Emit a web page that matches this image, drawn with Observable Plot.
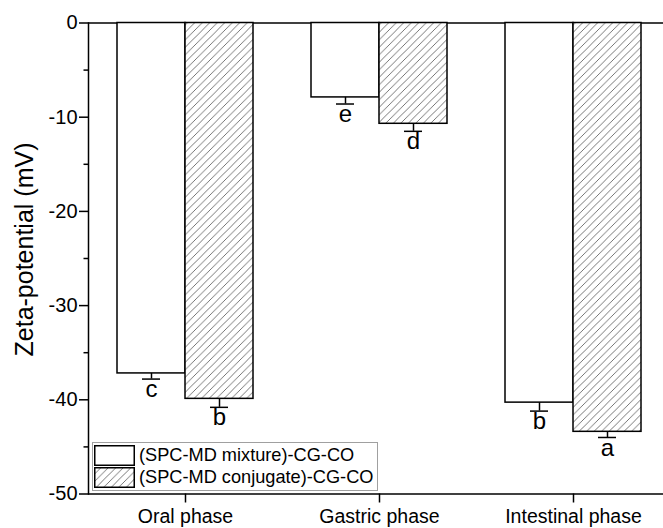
<!DOCTYPE html>
<html>
<head>
<meta charset="utf-8">
<script src="https://cdn.jsdelivr.net/npm/d3@7"></script>
<script src="https://cdn.jsdelivr.net/npm/@observablehq/plot@0.6"></script>
<style>
  html, body { margin: 0; padding: 0; background: white; overflow: hidden; }
  #wrap { position: relative; width: 663px; height: 528px; font-family: "Liberation Sans", Arial, sans-serif; }
  #legend { position: absolute; left: 92px; top: 442px; width: 284px; height: 47px; border: 1.5px solid #a0a0a0; background: white; box-sizing: content-box; }
  .item { position: absolute; left: 1px; height: 21px; display: flex; align-items: center; }
  .item svg { display: block; }
  .item span { margin-left: 4px; font-size: 18.2px; color: #000; white-space: nowrap; }
</style>
</head>
<body>
<svg width="0" height="0" style="position:absolute">
  <defs>
    <pattern id="hatch" patternUnits="userSpaceOnUse" width="7.5" height="7.5">
      <rect width="7.5" height="7.5" fill="white"></rect>
      <path d="M0,7.5 L7.5,0 M-1,1 L1,-1 M6.5,8.5 L8.5,6.5" stroke="#555" stroke-width="0.8"></path>
    </pattern>
  </defs>
</svg>
<div id="wrap"></div>
<script>
const phases = ["Oral phase", "Gastric phase", "Intestinal phase"];
const series = ["(SPC-MD mixture)-CG-CO", "(SPC-MD conjugate)-CG-CO"];
const mixtureValues = [-37.2, -7.9, -40.3];
const mixtureErrors = [0.6, 0.7, 0.9];
const mixtureLetters = ["c", "e", "b"];
const conjugateValues = [-39.9, -10.7, -43.4];
const conjugateErrors = [0.9, 0.8, 0.6];
const conjugateLetters = ["b", "d", "a"];
const yMajorTicks = [0, -10, -20, -30, -40, -50];
const yMinorTicks = [-5, -15, -25, -35, -45];
const yLabel = "Zeta-potential (mV)";

const rows = [];
phases.forEach((p, i) => {
  rows.push({phase: p, series: series[0], value: mixtureValues[i], err: mixtureErrors[i], letter: mixtureLetters[i]});
  rows.push({phase: p, series: series[1], value: conjugateValues[i], err: conjugateErrors[i], letter: conjugateLetters[i]});
});

const chart = Plot.plot({
  width: 663,
  height: 528,
  marginLeft: 88,
  marginRight: -7,
  marginTop: 22.5,
  marginBottom: 34.5,
  style: {fontFamily: '"Liberation Sans", Arial, sans-serif', fontSize: "20px", color: "black", background: "white"},
  fx: {domain: phases, padding: 0, axis: null},
  x: {domain: series, paddingInner: 0, paddingOuter: 0.416, axis: null},
  y: {domain: [-50, 0], axis: null},
  color: {domain: series, range: ["white", "url(#hatch)"]},
  marks: [
    Plot.ruleY([0, -50], {stroke: "black", strokeWidth: 1.5}),
    Plot.frame({anchor: "left", facetAnchor: "left", stroke: "black", strokeWidth: 1.5}),
    Plot.barY(rows, {fx: "phase", x: "series", y: "value", fill: "series", stroke: "black", strokeWidth: 1.5}),
    Plot.ruleX(rows, {fx: "phase", x: "series", y1: "value", y2: d => d.value - d.err, stroke: "black", strokeWidth: 1.5}),
    Plot.tickY(rows, {fx: "phase", x: "series", y: d => d.value - d.err, stroke: "black", strokeWidth: 1.5, insetLeft: 25, insetRight: 25}),
    Plot.text(rows, {fx: "phase", x: "series", y: d => d.value - d.err, text: "letter", lineAnchor: "top", dy: 1, fontSize: 24, fill: "black"}),
    Plot.axisY(yMajorTicks, {tickSize: 9, tickPadding: 2, fontSize: 20, strokeWidth: 1.5, tickFormat: d => String(d), label: null}),
    Plot.axisY(yMinorTicks, {tickSize: 4.5, strokeWidth: 1.5, tickFormat: () => "", label: null}),
    Plot.text([{phase: phases[0], label: yLabel}], {fx: "phase", frameAnchor: "left", textAnchor: "middle", text: "label", rotate: -90, dx: -64, dy: -9, fontSize: 25, fill: "black"}),
    Plot.axisFx({anchor: "bottom", tickSize: 9, tickPadding: 6, fontSize: 19.5, strokeWidth: 1.5, label: null})
  ]
});

const wrap = document.getElementById("wrap");
wrap.appendChild(chart);

const legend = document.createElement("div");
legend.id = "legend";
const fills = ["white", "url(#hatch)"];
series.forEach((s, i) => {
  const item = document.createElement("div");
  item.className = "item";
  item.style.top = (2 + i * 22) + "px";
  item.innerHTML = `<svg width="41" height="21"><rect x="0.75" y="0.75" width="39.5" height="19.5" fill="${fills[i]}" stroke="black" stroke-width="1.5"></rect></svg><span></span>`;
  item.querySelector("span").textContent = s;
  legend.appendChild(item);
});
wrap.appendChild(legend);
</script>
</body>
</html>
